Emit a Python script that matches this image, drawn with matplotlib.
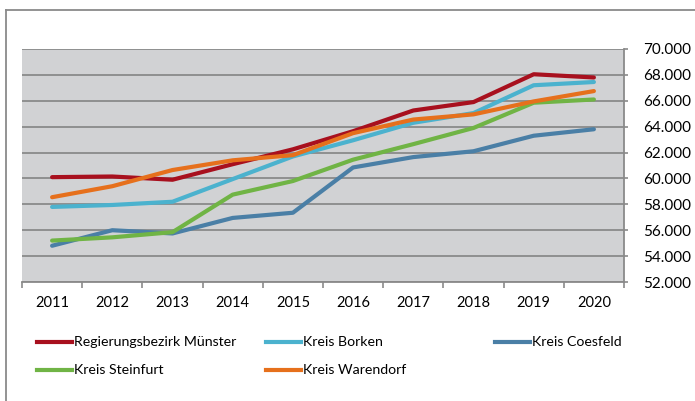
import numpy as np
import matplotlib.pyplot as plt
from matplotlib.lines import Line2D
from matplotlib.ticker import FuncFormatter

# --- data ---
years = ['2011', '2012', '2013', '2014', '2015', '2016', '2017', '2018', '2019', '2020']
muenster = [60100, 60150, 59900, 61100, 62250, 63650, 65250, 65900, 68050, 67800]
borken = [57800, 57950, 58200, 59950, 61700, 62950, 64300, 65050, 67200, 67450]
coesfeld = [54800, 56000, 55750, 56950, 57350, 60850, 61650, 62100, 63300, 63800]
steinfurt = [55200, 55450, 55850, 58750, 59800, 61450, 62650, 63900, 65850, 66100]
warendorf = [58550, 59400, 60650, 61400, 61800, 63500, 64550, 64950, 65950, 66750]
series_labels = ['Regierungsbezirk Münster', 'Kreis Borken', 'Kreis Coesfeld',
                 'Kreis Steinfurt', 'Kreis Warendorf']

colors = ['#A8101E', '#4BB2CE', '#4A7FA6', '#70B445', '#E6701C']

plt.rcParams['font.family'] = ['Lato', 'DejaVu Sans']

fig = plt.figure(figsize=(6.95, 4.01), dpi=100)
ax = fig.add_axes([22 / 695, 1 - 282 / 401, 602 / 695, 233 / 401])
ax.set_facecolor('#D1D2D4')

x = np.arange(len(years))
all_series = [muenster, borken, coesfeld, steinfurt, warendorf]
for vals, c in zip(all_series, colors):
    ax.plot(x, vals, color=c, lw=3, solid_capstyle='round', zorder=3)

ax.set_xlim(-0.5, len(years) - 0.5)
ax.set_ylim(52000, 70000)
ax.set_yticks(np.arange(52000, 70001, 2000))
ax.yaxis.tick_right()
ax.yaxis.set_major_formatter(FuncFormatter(lambda v, p: f'{int(v):,}'.replace(',', '.')))
ax.grid(axis='y', color='#8A8A8A', lw=1.3, zorder=1)
ax.set_axisbelow(True)

# category boundaries as ticks, labels in between
ax.set_xticks(np.arange(-0.5, len(years)))
ax.set_xticklabels([])
ax.set_xticks(x, minor=True)
ax.set_xticklabels(years, minor=True)
ax.tick_params(axis='x', which='major', length=4, color='#8A8A8A', width=1.2)
ax.tick_params(axis='x', which='minor', length=0, pad=10, labelsize=10.5)
ax.tick_params(axis='y', length=3, color='#8A8A8A', width=1.2, pad=11, labelsize=11)

for s in ['left', 'top']:
    ax.spines[s].set_visible(False)
for s in ['bottom', 'right']:
    ax.spines[s].set_color('#8A8A8A')
    ax.spines[s].set_linewidth(1.3)

# outer frame (top and left visible)
fig.add_artist(Line2D([6 / 695, 6 / 695], [0, 1 - 10 / 401], color='#8A8A8A', lw=1.3))
fig.add_artist(Line2D([6 / 695, 1], [1 - 10 / 401, 1 - 10 / 401], color='#8A8A8A', lw=1.3))

# legend, three columns
col_x = [37, 266, 495]
row_y = [342, 370]
for i, (lab, c) in enumerate(zip(series_labels, colors)):
    cx = col_x[i % 3]
    cy = 1 - row_y[i // 3] / 401
    fig.add_artist(Line2D([cx / 695, (cx + 35) / 695], [cy, cy], color=c, lw=3))
    fig.text((cx + 37) / 695, cy, lab, fontsize=10.2, va='center', ha='left')

fig.savefig('out.png', dpi=100)
